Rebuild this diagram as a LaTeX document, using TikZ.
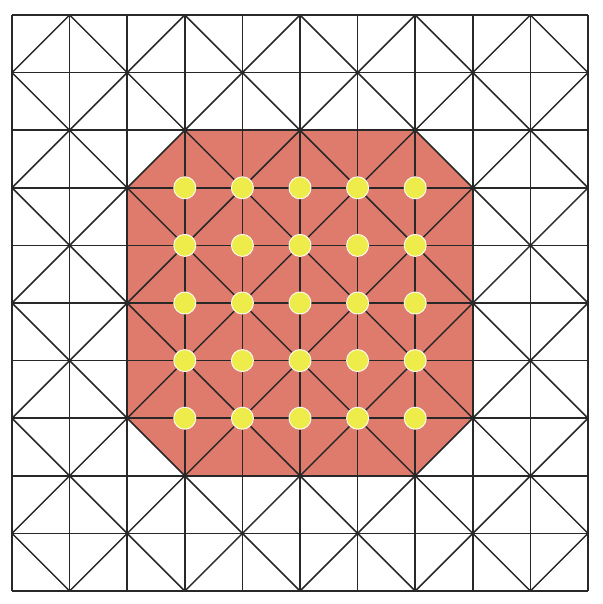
\documentclass[tikz,border=0pt]{standalone}
\definecolor{salmon}{RGB}{222,123,108}
\definecolor{dotyellow}{RGB}{238,236,74}
\definecolor{linegray}{RGB}{40,40,40}
\tikzset{
  gridline/.style={draw=linegray, line width=1.5pt},
  region/.style={fill=salmon, draw=none},
  dot/.style={circle, fill=dotyellow, draw=white, line width=0.9pt, minimum size=22pt, inner sep=0pt}
}
\begin{document}
\begin{tikzpicture}[x=1pt,y=-1pt]
\useasboundingbox (0,0) rectangle (602,604);
\begin{scope}[shift={(12,15)}, x=57.6pt, y=-57.6pt]
  \fill[region] (3,2) -- (7,2) -- (8,3) -- (8,7) -- (7,8) -- (3,8) -- (2,7) -- (2,3) -- cycle;
  \foreach \i in {0,...,10} {
    \draw[gridline] (\i,0) -- (\i,10);
    \draw[gridline] (0,\i) -- (10,\i);
  }
  \foreach \c in {1,3,5,7,9} {
    \draw[gridline] (\c,0) -- (10,10-\c);
    \draw[gridline] (0,\c) -- (10-\c,10);
    \draw[gridline] (0,\c) -- (\c,0);
    \draw[gridline] (\c,10) -- (10,\c);
  }
  \foreach \i in {3,...,7} {
    \foreach \j in {3,...,7} {
      \node[dot] (d\i\j) at (\i,\j) {};
    }
  }
\end{scope}
\end{tikzpicture}
\end{document}
